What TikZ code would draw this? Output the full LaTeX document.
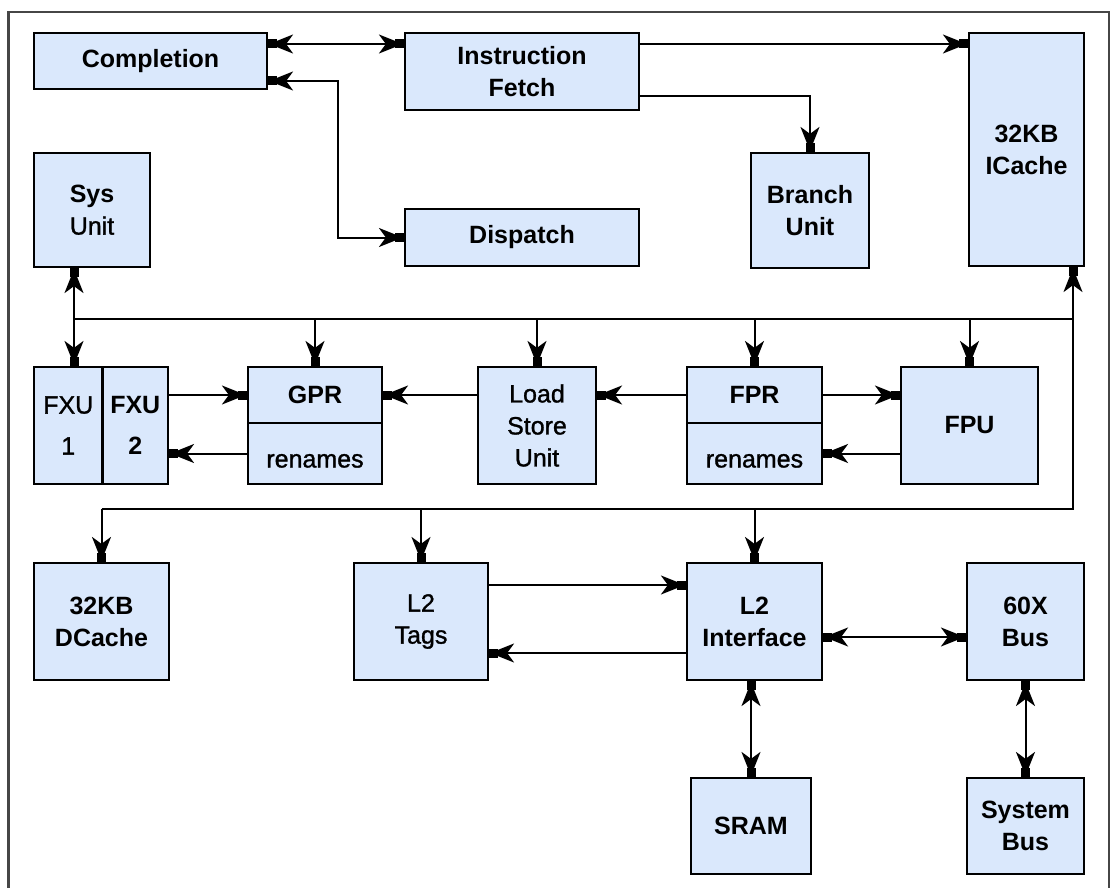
\documentclass[tikz,border=0pt]{standalone}
\usepackage{fontspec}
\setmainfont{Liberation Sans}
\newfontfamily\medsans[FakeBold=1.2]{Liberation Sans}
\usetikzlibrary{arrows.meta}

\definecolor{boxfill}{RGB}{218,232,252}
\definecolor{framegray}{RGB}{70,70,70}

\begin{document}
\begin{tikzpicture}[x=1pt,y=-1pt,
  >={Stealth[length=24pt,width=19pt,inset=7pt,sep=-8pt]Rectangle[length=9pt,width=9pt,sep=0pt]},
  blk/.style={draw=black, fill=boxfill, line width=2.2pt, inner sep=0pt,
    align=center, font=\fontsize{25pt}{32pt}\selectfont\medsans},
  bf/.style={font=\fontsize{25pt}{32pt}\selectfont\bfseries},
  wire/.style={line width=2pt, draw=black},
  frame/.style={line width=2.5pt, draw=framegray}]

\useasboundingbox (0,0) rectangle (1112,888);

% outer frame, open at the bottom
\draw[frame] (8.5,888) -- (8.5,12) -- (1109,12) -- (1109,888);

% instruction side
\node[blk,bf,minimum width=233pt,minimum height=56pt] (comp) at (150.5,61) {Completion};
\node[blk,bf,minimum width=234pt,minimum height=77pt] (ifetch) at (522,71.5) {Instruction\\Fetch};
\node[blk,bf,minimum width=115pt,minimum height=233pt] (icache) at (1026.5,149.5) {32KB\\ICache};
\node[blk,minimum width=116pt,minimum height=114pt] (sys) at (92,210) {{\rmfamily\bfseries Sys}\\Unit};
\node[blk,bf,minimum width=234pt,minimum height=57pt] (disp) at (522,237.5) {Dispatch};
\node[blk,bf,minimum width=118pt,minimum height=115pt] (branch) at (810,210.5) {Branch\\Unit};

% execution units and register files
\node[blk,minimum width=68.5pt,minimum height=117pt] (fxu1) at (68.25,425.5) {FXU\\[9pt]1};
\node[blk,bf,minimum width=65.5pt,minimum height=117pt] (fxu2) at (135.25,425.5) {FXU\\[9pt]2};
\node[blk,bf,minimum width=134pt,minimum height=56pt] (gprtop) at (315,395) {GPR};
\node[blk,minimum width=134pt,minimum height=61pt,text height=28pt,text depth=0pt] (gprren) at (315,453.5) {renames};
\node[blk,minimum width=118pt,minimum height=117pt] (lsu) at (537,425.5) {Load\\Store\\Unit};
\node[blk,bf,minimum width=135pt,minimum height=56pt] (fprtop) at (754.5,395) {FPR};
\node[blk,minimum width=135pt,minimum height=61pt,text height=28pt,text depth=0pt] (fprren) at (754.5,453.5) {renames};
\node[blk,bf,minimum width=137pt,minimum height=117pt] (fpu) at (969.5,425.5) {FPU};

% memory side
\node[blk,bf,minimum width=135pt,minimum height=117pt] (dcache) at (101.5,621.5) {32KB\\DCache};
\node[blk,minimum width=134pt,minimum height=117pt] (l2tags) at (421,621.5) {L2\\Tags};
\node[blk,bf,minimum width=135pt,minimum height=117pt] (l2if) at (754.5,621.5) {L2\\Interface};
\node[blk,bf,minimum width=117pt,minimum height=117pt] (bus60x) at (1025.5,621.5) {60X\\Bus};
\node[blk,bf,minimum width=120pt,minimum height=96pt] (sram) at (751,826) {SRAM};
\node[blk,bf,minimum width=117pt,minimum height=96pt] (sysbus) at (1025.5,826) {System\\Bus};

% routing levels
\coordinate (yA) at (0,44);
\coordinate (yB) at (0,81);
\coordinate (yC) at (0,96);
\coordinate (xd) at (338,0);
\coordinate (xs) at (74,0);
\coordinate (xr) at (1073,0);
\coordinate (ybus) at (0,319);
\coordinate (ylow) at (0,509);
\coordinate (yT) at (0,585);
\coordinate (yR) at (0,653);
\coordinate (yX) at (0,637);

% fetch / completion / dispatch
\draw[wire,<->] (comp.east |- yA) -- (ifetch.west |- yA);
\draw[wire,<->] (comp.east |- yB) -- (xd |- yB) |- (disp.west);
\draw[wire,->] (ifetch.east |- yA) -- (icache.west |- yA);
\draw[wire,->] (ifetch.east |- yC) -| (branch.north);

% upper result bus
\draw[wire,<->] (sys.south -| xs) -- (fxu1.north -| xs);
\draw[wire] (xs |- ybus) -- (xr |- ybus);
\draw[wire,->] (gprtop.north |- ybus) -- (gprtop.north);
\draw[wire,->] (lsu.north |- ybus) -- (lsu.north);
\draw[wire,->] (fprtop.north |- ybus) -- (fprtop.north);
\draw[wire,->] (fpu.north |- ybus) -- (fpu.north);

% register file traffic
\draw[wire,->] (fxu2.east |- gprtop.west) -- (gprtop.west);
\draw[wire,->] (gprren.west) -- (fxu2.east |- gprren.west);
\draw[wire,->] (lsu.west |- gprtop.east) -- (gprtop.east);
\draw[wire,->] (fprtop.west) -- (lsu.east |- fprtop.west);
\draw[wire,->] (fprtop.east) -- (fpu.west |- fprtop.east);
\draw[wire,->] (fpu.west |- fprren.east) -- (fprren.east);

% lower bus and cache refill path
\draw[wire,->] (dcache.north |- ylow) -- (xr |- ylow) -- (icache.south -| xr);
\draw[wire,->] (dcache.north |- ylow) -- (dcache.north);
\draw[wire,->] (l2tags.north |- ylow) -- (l2tags.north);
\draw[wire,->] (l2if.north |- ylow) -- (l2if.north);

% L2 and external buses
\draw[wire,->] (l2tags.east |- yT) -- (l2if.west |- yT);
\draw[wire,->] (l2if.west |- yR) -- (l2tags.east |- yR);
\draw[wire,<->] (l2if.east |- yX) -- (bus60x.west |- yX);
\draw[wire,<->] (l2if.south -| sram.north) -- (sram.north);
\draw[wire,<->] (bus60x.south) -- (sysbus.north);

\end{tikzpicture}
\end{document}
